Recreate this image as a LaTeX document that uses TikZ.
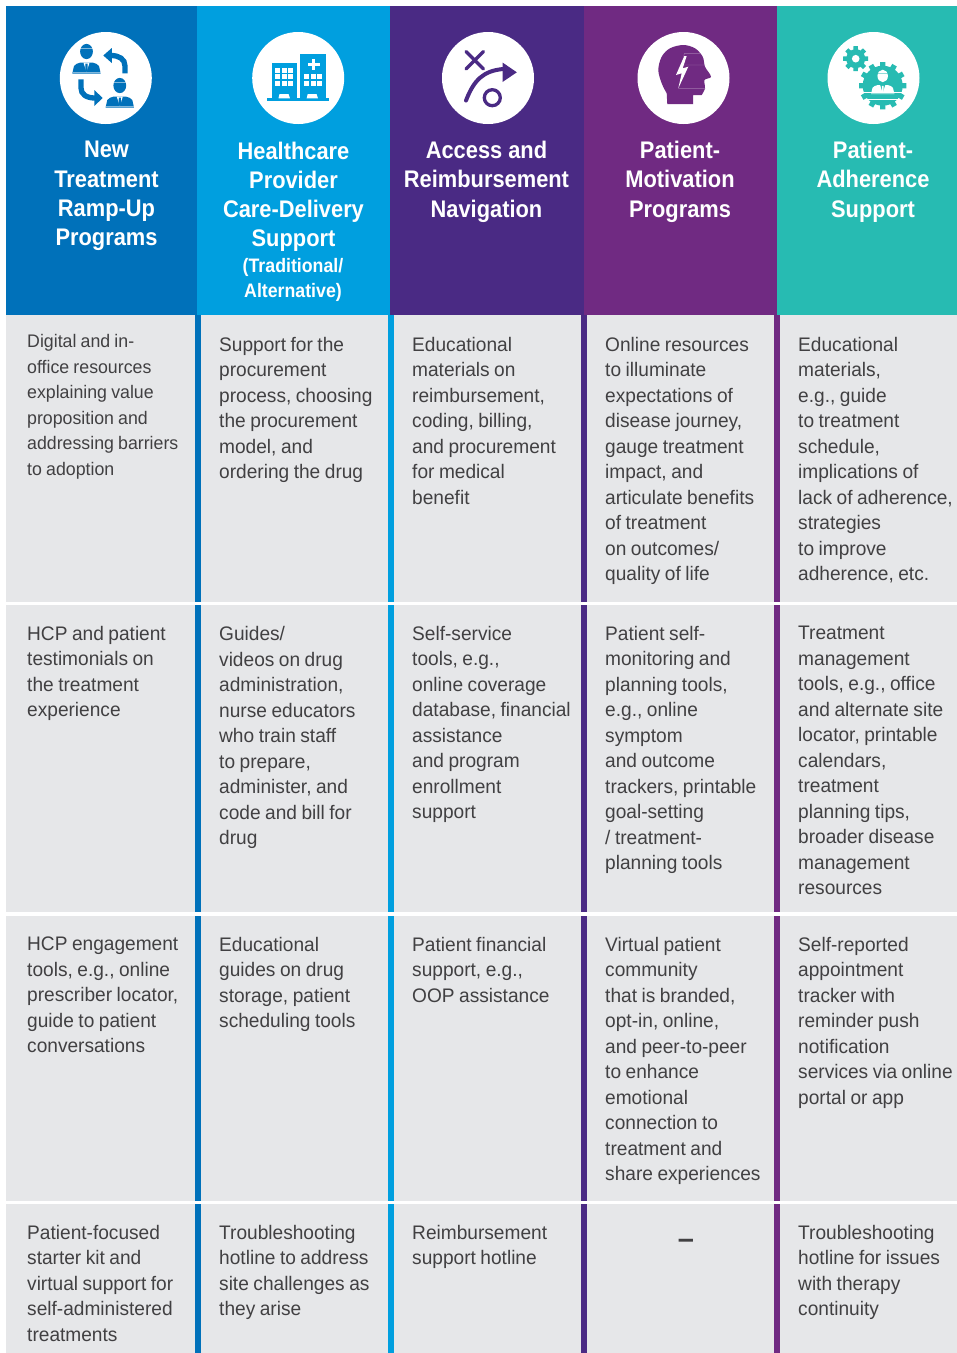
\documentclass[tikz,border=0pt]{standalone}
\usepackage{fontspec}
\setmainfont{Liberation Sans}
\newfontfamily\headfont[FakeStretch=0.91]{Liberation Sans}
\newfontfamily\bodyfont[FakeStretch=0.975,WordSpace=0.85]{Liberation Sans}
\definecolor{cA}{HTML}{0071BA}
\definecolor{cB}{HTML}{009FDF}
\definecolor{cC}{HTML}{4A2A84}
\definecolor{cD}{HTML}{702A82}
\definecolor{cE}{HTML}{27BBB2}
\definecolor{cellgray}{HTML}{E6E7E9}
\definecolor{bodytext}{HTML}{414042}
\tikzset{
  x=1pt,y=-1pt,
  cellbg/.style={fill=cellgray,draw=none},
  icondisc/.style={circle,fill=white,draw=none,minimum size=92pt,inner sep=0},
  headtxt/.style={text=white,align=center,inner sep=0,anchor=north,
    font=\headfont\bfseries\fontsize{24}{29.3}\selectfont},
  subtxt/.style={text=white,align=center,inner sep=0,anchor=north,
    font=\headfont\bfseries\fontsize{19.5}{25}\selectfont},
  celltxt/.style={text=bodytext,align=left,inner sep=0,anchor=north west,
    font=\bodyfont\fontsize{19.6}{25.5}\selectfont,
    execute at begin node=\rule{0pt}{15pt}},
  smalltxt/.style={celltxt,font=\bodyfont\fontsize{18.2}{25.5}\selectfont},
}
% person icon: (x,y) is the middle of the bottom edge
\newcommand{\personicon}[5]{%
  \begin{scope}[shift={(#1,#2)},scale=#3]
    \fill[#4] (0,-22) ellipse [x radius=6.4,y radius=7.6];
    \fill[#4] (-14.2,0) -- (-12.5,-7.5) .. controls (-11,-9.5) and (-9,-10.2) .. (-6.5,-10.8)
      -- (6.5,-10.8) .. controls (9,-10.2) and (11,-9.5) .. (12.5,-7.5) -- (14.2,0) -- cycle;
    \fill[#5] (-3,-10.8) -- (3,-10.8) -- (0,-1.5) -- cycle;
    \fill[#4] (-1,-10) -- (1,-10) -- (1.2,-3) -- (0,-1.5) -- (-1.2,-3) -- cycle;
    \draw[#5,opacity=.5,line width=.25pt] (-6.4,-25) -- (6.4,-25);
    \draw[#5,opacity=.5,line width=.25pt] (-14,-1.5) -- (14,-1.5);
  \end{scope}}
% gear icon: x,y,body radius,tooth half width,tooth outer radius,number of teeth,colour
\newcommand{\gearicon}[7]{%
  \fill[#7] (#1,#2) circle [radius=#3];
  \foreach \k in {1,...,#6}{
    \fill[#7,shift={(#1,#2)},rotate=\k*360/#6] (-#4-.5,0) -- (-#4,#5) -- (#4,#5) -- (#4+.5,0) -- cycle;
  }}
\begin{document}
\begin{tikzpicture}
\useasboundingbox (0,0) rectangle (957,1353);
% body rows
\fill[cellbg] (6,315) rectangle (957,601.5);
\fill[cellbg] (6,605) rectangle (957,912);
\fill[cellbg] (6,916) rectangle (957,1200.5);
\fill[cellbg] (6,1204) rectangle (957,1353);
% column separators
\foreach \xa/\xb/\colr in {195/200.5/cA,388.3/393.7/cB,581.2/586.5/cC,774/779.8/cD}{
  \fill[\colr] (\xa,315) rectangle (\xb,601.5);
  \fill[\colr] (\xa,605) rectangle (\xb,912);
  \fill[\colr] (\xa,916) rectangle (\xb,1200.5);
  \fill[\colr] (\xa,1204) rectangle (\xb,1353);
}
% header bands
\fill[cA] (6,6) rectangle (197,314.5);
\fill[cB] (197,6) rectangle (390,314.5);
\fill[cC] (390,6) rectangle (584,314.5);
\fill[cD] (584,6) rectangle (777,314.5);
\fill[cE] (777,6) rectangle (957,314.5);
% icon discs
\node[icondisc] (discA) at (105.8,78) {};
\node[icondisc] (discB) at (298.2,78) {};
\node[icondisc] (discC) at (488,78) {};
\node[icondisc] (discD) at (683.5,78) {};
\node[icondisc] (discE) at (873.5,78) {};
% icon A: two people and two arrows
\personicon{86.5}{73.5}{1}{cA}{white}
\personicon{119.8}{107.5}{1}{cA}{white}
\draw[cA,line width=5.3pt] (125,73.3) -- (125,66) .. controls (125,59) and (119,55.5) .. (111,55.5);
\fill[cA] (103.3,55.5) -- (111.8,48) -- (111.8,63) -- cycle;
\draw[cA,line width=5.3pt] (81,79.3) -- (81,88) .. controls (81,94) and (86,98) .. (95,98);
\fill[cA] (102.7,98) -- (94.3,90) -- (94.3,106) -- cycle;
% icon B: two buildings
\fill[cB] (271.7,63.3) rectangle (296.7,98.5);
\fill[cB] (300.3,54.3) rectangle (325.7,98.5);
\fill[cB] (267,98.3) rectangle (329,101);
\foreach \wx in {275,281.7,288.3}{\foreach \wy in {67.7,74.3,81}{
  \fill[white] (\wx,\wy) rectangle +(5,5);}}
\foreach \wx in {304,310.7,317.3}{\foreach \wy in {74.3,81}{
  \fill[white] (\wx,\wy) rectangle +(5,5);}}
\fill[white] (312,58.5) rectangle (315,70);
\fill[white] (307.5,62.7) rectangle (319.5,65.7);
\fill[white] (278.5,98.3) -- (279.5,94) -- (288.5,94) -- (290,98.3) -- cycle;
\fill[white] (306.7,98.3) -- (307.7,94) -- (316.5,94) -- (318,98.3) -- cycle;
% icon C: play diagram
\draw[cC,line width=3.5pt,line cap=round] (466,51.5) -- (483.5,69);
\draw[cC,line width=3.5pt,line cap=round] (483.5,51.5) -- (466,69);
\draw[cC,line width=4pt,line cap=round] (466,100.5) .. controls (474,80) and (483,71) .. (503,69);
\fill[cC] (502.5,62.5) -- (516.8,72.3) -- (502.5,82) -- cycle;
\draw[cC,line width=3.3pt] (492.3,97.7) circle [radius=8];
% icon D: head with lightning
\fill[cD] (667.3,104) -- (693,104) -- (693,95) -- plot[smooth,tension=.55] coordinates
  {(701.7,95) (705,88.3) (704.5,80) (711,76.7) (705,66.7) (702.7,56.7) (695,48.3) (683.3,45)
   (670,48.3) (661.7,56.7) (658.3,70) (661.7,83.3) (666.7,93.3)} -- cycle;
\fill[white] (684.3,56) -- (676,75) -- (681.7,73.3) -- (678.3,88.3) -- (688.3,66.7) -- (682.7,68.3) -- (686.7,56) -- cycle;
\draw[cD!65!white,line width=.4pt] (684.3,53.3) -- (700,53.3) (684,65) -- (705,65) (678.3,88.3) -- (705,88.3) (684.3,53.3) -- (683.5,58);
% icon E: gears with person
\gearicon{855.7}{58.7}{9.5}{2.2}{12.5}{8}{cE}
\fill[white] (855.7,58.7) circle [radius=3.8];
\gearicon{882.7}{85.7}{20}{2.6}{23.7}{12}{cE}
\personicon{882.7}{94}{.82}{white}{cE}
\draw[white,line width=.4pt] (862,92) -- (902,92) (866,99) -- (898,99);
% header labels
\node[headtxt] (tA) at (106.5,141) {New\\Treatment\\Ramp-Up\\Programs};
\node[headtxt] (tB) at (293.5,141.5) {Healthcare\\Provider\\Care-Delivery\\Support};
\node[subtxt] (tBs) at (293,258.5) {(Traditional/\\Alternative)};
\node[headtxt] (tC) at (486.5,141) {Access and\\Reimbursement\\Navigation};
\node[headtxt] (tD) at (680,141) {Patient-\\Motivation\\Programs};
\node[headtxt] (tE) at (873,141) {Patient-\\Adherence\\Support};
% row 1
\node[smalltxt] (r1a) at (27,334.5) {Digital and in-\\office resources\\explaining value\\proposition and\\addressing barriers\\to adoption};
\node[celltxt] (r1b) at (219,337) {Support for the\\procurement\\process, choosing\\the procurement\\model, and\\ordering the drug};
\node[celltxt] (r1c) at (412,337) {Educational\\materials on\\reimbursement,\\coding, billing,\\and procurement\\for medical\\benefit};
\node[celltxt] (r1d) at (605,337) {Online resources\\to illuminate\\expectations of\\disease journey,\\gauge treatment\\impact, and\\articulate benefits\\of treatment\\on outcomes/\\quality of life};
\node[celltxt] (r1e) at (798,337) {Educational\\materials,\\e.g., guide\\to treatment\\schedule,\\implications of\\lack of adherence,\\strategies\\to improve\\adherence, etc.};
% row 2
\node[celltxt] (r2a) at (27,626) {HCP and patient\\testimonials on\\the treatment\\experience};
\node[celltxt] (r2b) at (219,626.5) {Guides/\\videos on drug\\administration,\\nurse educators\\who train staff\\to prepare,\\administer, and\\code and bill for\\drug};
\node[celltxt] (r2c) at (412,626) {Self-service\\tools, e.g.,\\online coverage\\database, financial\\assistance\\and program\\enrollment\\support};
\node[celltxt] (r2d) at (605,626) {Patient self-\\monitoring and\\planning tools,\\e.g., online\\symptom\\and outcome\\trackers, printable\\goal-setting\\/ treatment-\\planning tools};
\node[celltxt] (r2e) at (798,626) {Treatment\\management\\tools, e.g., office\\and alternate site\\locator, printable\\calendars,\\treatment\\planning tips,\\broader disease\\management\\resources};
% row 3
\node[celltxt] (r3a) at (27,937) {HCP engagement\\tools, e.g., online\\prescriber locator,\\guide to patient\\conversations};
\node[celltxt] (r3b) at (219,937) {Educational\\guides on drug\\storage, patient\\scheduling tools};
\node[celltxt] (r3c) at (412,937) {Patient financial\\support, e.g.,\\OOP assistance};
\node[celltxt] (r3d) at (605,937) {Virtual patient\\community\\that is branded,\\opt-in, online,\\and peer-to-peer\\to enhance\\emotional\\connection to\\treatment and\\share experiences};
\node[celltxt] (r3e) at (798,937) {Self-reported\\appointment\\tracker with\\reminder push\\notification\\services via online\\portal or app};
% row 4
\node[celltxt] (r4a) at (27,1225) {Patient-focused\\starter kit and\\virtual support for\\self-administered\\treatments};
\node[celltxt] (r4b) at (219,1225) {Troubleshooting\\hotline to address\\site challenges as\\they arise};
\node[celltxt] (r4c) at (412,1225) {Reimbursement\\support hotline};
\node[text=bodytext,inner sep=0,font=\bfseries\fontsize{29}{29}\selectfont] (r4d) at (686,1244) {–};
\node[celltxt] (r4e) at (798,1225) {Troubleshooting\\hotline for issues\\with therapy\\continuity};
\end{tikzpicture}
\end{document}
